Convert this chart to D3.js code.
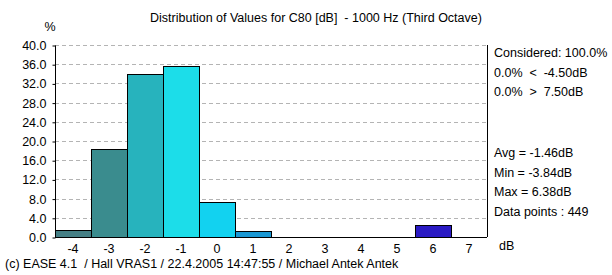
<!DOCTYPE html>
<html>
<head>
<meta charset="utf-8">
<script src="https://cdn.jsdelivr.net/npm/d3@7"></script>
<style>
  body { margin: 0; background: #fff; }
  text { font-family: "Liberation Sans", Arial, sans-serif; font-size: 12.5px; fill: #000; white-space: pre; }
</style>
</head>
<body>
<div id="chart"></div>
<script>
// bins (dB) and share of values in each (%)
var bins = [-4, -3, -2, -1, 0, 1, 2, 3, 4, 5, 6, 7];
var percent = [1.4, 18.3, 33.9, 35.7, 7.3, 1.2, 0, 0, 0, 0, 2.6, 0];
var barColors = ["#457f85", "#3a8c8e", "#27b3bd", "#1cdde9", "#12d2f0", "#1a98d4",
                 "#fff", "#fff", "#fff", "#fff", "#2a1ac4", "#fff"];
var yTicks = [0, 4, 8, 12, 16, 20, 24, 28, 32, 36, 40];
var infoTop = ["Considered: 100.0%", "0.0%  <  -4.50dB", "0.0%  >  7.50dB"];
var infoBottom = ["Avg = -1.46dB", "Min = -3.84dB", "Max = 6.38dB", "Data points : 449"];

var width = 612, height = 275;
var margin = {left: 55, right: 125, top: 45, bottom: 38};

var svg = d3.select("#chart")
  .append("svg")
    .attr("width", width)
    .attr("height", height);

var x = d3.scaleBand()
  .domain(bins)
  .range([margin.left, width - margin.right])
  .padding(0);

var y = d3.scaleLinear()
  .domain([0, 40])
  .range([height - margin.bottom, margin.top]);

// dashed grid
svg.selectAll(".grid")
  .data(yTicks.slice(1))
  .enter()
  .append("line")
    .attr("x1", margin.left)
    .attr("x2", width - margin.right)
    .attr("y1", function(d) { return Math.round(y(d)) + 0.5; })
    .attr("y2", function(d) { return Math.round(y(d)) + 0.5; })
    .attr("stroke", "#b4b4b4")
    .attr("stroke-dasharray", "4,3");

// bars
svg.selectAll(".bar")
  .data(bins.filter(function(d, i) { return percent[i] > 0; }))
  .enter()
  .append("rect")
    .attr("x", function(d) { return Math.round(x(d)) + 0.5; })
    .attr("y", function(d) { return Math.round(y(percent[bins.indexOf(d)])) + 0.5; })
    .attr("width", x.bandwidth())
    .attr("height", function(d) { return Math.round(y(0)) - Math.round(y(percent[bins.indexOf(d)])); })
    .style("fill", function(d) { return barColors[bins.indexOf(d)]; })
    .attr("stroke", "#000");

// y axis
var yAxis = svg.append("g")
  .attr("transform", "translate(" + (margin.left + 0.5) + ",0.5)")
  .call(d3.axisLeft(y).tickValues(yTicks).tickSize(3).tickFormat(d3.format(".1f")));
yAxis.select(".domain").attr("d", "M0," + Math.round(y(40)) + "V" + Math.round(y(0)));
yAxis.selectAll("text").attr("x", -9).style("font-size", "12.5px").style("font-family", null);

// x axis
var xAxis = svg.append("g")
  .attr("transform", "translate(0," + (Math.round(y(0)) + 0.5) + ")")
  .call(d3.axisBottom(x).tickSize(0).tickPadding(7));
xAxis.select(".domain").attr("d", "M" + margin.left + ",0H" + (width - margin.right));
xAxis.selectAll("text").style("font-size", "12.5px").style("font-family", null);

// right border
svg.append("line")
  .attr("x1", width - margin.right + 0.5).attr("x2", width - margin.right + 0.5)
  .attr("y1", Math.round(y(40))).attr("y2", Math.round(y(0)))
  .attr("stroke", "#000");

// labels
svg.append("text").attr("x", 50).attr("y", 31).attr("text-anchor", "middle").text("%");
svg.append("text").attr("x", 499).attr("y", 250).text("dB");
svg.append("text").attr("x", 316).attr("y", 22).attr("text-anchor", "middle")
  .text("Distribution of Values for C80 [dB]  - 1000 Hz (Third Octave)");

svg.selectAll(".infoTop")
  .data(infoTop)
  .enter()
  .append("text")
    .attr("x", 494)
    .attr("y", function(d, i) { return 57 + i * 19.5; })
    .text(function(d) { return d; });

svg.selectAll(".infoBottom")
  .data(infoBottom)
  .enter()
  .append("text")
    .attr("x", 494)
    .attr("y", function(d, i) { return 157 + i * 19.5; })
    .text(function(d) { return d; });

svg.append("text").attr("x", 5).attr("y", 268)
  .text("(c) EASE 4.1  / Hall VRAS1 / 22.4.2005 14:47:55 / Michael Antek Antek");
</script>
</body>
</html>
